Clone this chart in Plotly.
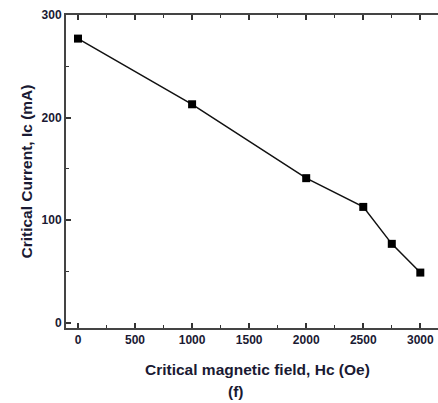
import plotly.graph_objects as go

field_oe = [0, 1000, 2000, 2500, 2750, 3000]
current_ma = [277, 213, 141, 113, 77, 49]
x_ticks = [0, 500, 1000, 1500, 2000, 2500, 3000]
y_ticks = [0, 100, 200, 300]

TXT = "#1a1a33"
FONT = "Liberation Sans, Arial, sans-serif"
L, R, T, B = 66, 0, 15, 75
PW = 438 - L - R

fig = go.Figure()
fig.add_trace(go.Scatter(
    x=field_oe, y=current_ma, mode="lines+markers",
    line=dict(color="#111111", width=1.5),
    marker=dict(symbol="square", size=8, color="#000000"),
    showlegend=False,
))

fig.update_xaxes(
    range=[-105, 3155], tickvals=x_ticks, ticktext=[str(v) for v in x_ticks],
    showgrid=False, zeroline=False, showline=True, linecolor="#444444", linewidth=2,
    mirror="allticks", ticks="inside", ticklen=5, tickwidth=1.5, tickcolor="#333333",
    minor=dict(ticks="inside", ticklen=3, tickwidth=1.2, tickcolor="#333333", dtick=250, tick0=0),
    tickfont=dict(family=FONT, size=12, color=TXT, weight="bold"),
)
fig.update_yaxes(
    range=[-5, 300], tickvals=y_ticks, ticktext=[str(v) for v in y_ticks],
    showgrid=False, zeroline=False, showline=True, linecolor="#444444", linewidth=2,
    mirror=False, ticks="inside", ticklen=5, tickwidth=1.5, tickcolor="#333333",
    minor=dict(ticks="inside", ticklen=3, tickwidth=1.2, tickcolor="#333333", dtick=50, tick0=0),
    tickfont=dict(family=FONT, size=12, color=TXT, weight="bold"),
)

fig.add_annotation(
    text="Critical magnetic field, Hc (Oe)", xref="paper", yref="paper",
    x=(257.5 - L) / PW, y=0, xanchor="center", yanchor="middle",
    yshift=-(369 - 328), showarrow=False,
    font=dict(family=FONT, size=15.5, color=TXT, weight="bold"),
)
fig.add_annotation(
    text="(f)", xref="paper", yref="paper",
    x=(236 - L) / PW, y=0, xanchor="center", yanchor="middle",
    yshift=-(391 - 328), showarrow=False,
    font=dict(family=FONT, size=15.5, color=TXT, weight="bold"),
)
fig.add_annotation(
    text="Critical Current, Ic (mA)", xref="paper", yref="paper",
    x=0, y=0.5, xanchor="center", yanchor="middle", textangle=-90,
    xshift=-(L - 26), showarrow=False,
    font=dict(family=FONT, size=15.5, color=TXT, weight="bold"),
)

fig.update_layout(
    width=438, height=403,
    margin=dict(l=L, r=R, t=T, b=B),
    plot_bgcolor="white", paper_bgcolor="white",
)

fig.write_html("out.html")
